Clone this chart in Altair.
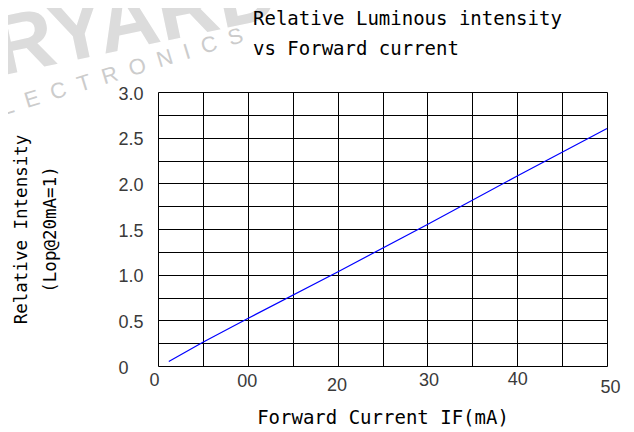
import altair as alt
import pandas as pd

# ---- data ----
current_ma = [1.2, 5, 10, 20, 30, 40, 50]
rel_intensity = [0.05, 0.26, 0.52, 1.03, 1.55, 2.08, 2.60]

x_grid_values = [0, 5, 10, 15, 20, 25, 30, 35, 40, 45, 50]
x_tick_values = [0, 10, 20, 30, 40, 50]
x_tick_labels = ["0", "00", "20", "30", "40", "50"]

y_grid_values = [0, 0.25, 0.5, 0.75, 1.0, 1.25, 1.5, 1.75, 2.0, 2.25, 2.5, 2.75, 3.0]
y_tick_values = [0, 0.5, 1.0, 1.5, 2.0, 2.5, 3.0]
y_tick_labels = ["0", "0.5", "1.0", "1.5", "2.0", "2.5", "3.0"]

title_lines = ["Relative Luminous intensity", "vs Forward current"]
x_title = "Forward Current IF(mA)"
y_title_lines = ["Relative Intensity", "(Lop@20mA=1)"]
watermark_text = ["RYARD", "ELECTRONICS"]

df = pd.DataFrame({"current": current_ma, "intensity": rel_intensity})


def label_expr(values, labels):
    expr = "''"
    for v, l in reversed(list(zip(values, labels))):
        expr = f"datum.value == {v} ? '{l}' : ({expr})"
    return expr


# per-label placement tweaks (style only)
x_pad = {0: 5, 10: 6, 20: 10, 30: 5, 40: 4, 50: 12}
x_off = {0: -4, 10: -1, 20: -1, 30: 1, 40: 0, 50: 3}

x_axis = alt.Axis(
    values=x_grid_values,
    labelExpr=label_expr(x_tick_values, x_tick_labels),
    grid=True, gridColor="black", gridOpacity=1, gridWidth=1,
    ticks=False, domain=False,
    labelFont="Liberation Sans", labelFontSize=18, labelColor="#3a3a3a",
    labelBaseline="top", labelFlush=False, labelOverlap=False,
    labelPadding={"condition": [{"test": f"datum.value == {k}", "value": v} for k, v in x_pad.items()], "value": 6},
    labelOffset={"condition": [{"test": f"datum.value == {k}", "value": v} for k, v in x_off.items()], "value": 0},
    title=x_title, titleFont="DejaVu Sans Mono", titleFontSize=19, titleFontWeight="normal",
    titleColor="black", titlePadding=12,
)

y_axis = alt.Axis(
    values=y_grid_values,
    labelExpr=label_expr(y_tick_values, y_tick_labels),
    grid=True, gridColor="black", gridOpacity=1, gridWidth=1,
    ticks=False, domain=False,
    labelFont="Liberation Sans", labelFontSize=18, labelColor="#3a3a3a",
    labelBaseline="middle", labelFlush=False, labelOverlap=False, labelOffset=2,
    labelPadding={"condition": [{"test": "datum.value == 0", "value": 30}], "value": 15},
    title=y_title_lines, titleFont="DejaVu Sans Mono", titleFontSize=17.5, titleFontWeight="normal",
    titleColor="black", titleLineHeight=29, titlePadding=58,
)

line = alt.Chart(df).mark_line(color="#0000ff", strokeWidth=1.2).encode(
    x=alt.X("current:Q", scale=alt.Scale(domain=[0, 50], nice=False, zero=False), axis=x_axis),
    y=alt.Y("intensity:Q", scale=alt.Scale(domain=[0, 3], nice=False), axis=y_axis),
)

wm1 = alt.Chart(pd.DataFrame({"t": [watermark_text[0]]})).mark_text(
    font="Liberation Sans", fontSize=84, fontWeight="bold", color="#dcdcdc",
    align="left", baseline="alphabetic", angle=348,
).encode(text="t:N", x=alt.value(-158), y=alt.value(-16))

# letter-spaced watermark (non-breaking spaces are not collapsed in SVG)
spaced = "\u00a0\u00a0".join(list(watermark_text[1]))
wm2 = alt.Chart(pd.DataFrame({"t": [spaced]})).mark_text(
    font="Liberation Sans", fontSize=22, color="#cccccc",
    align="left", baseline="alphabetic", angle=343,
).encode(text="t:N", x=alt.value(-180), y=alt.value(31))

title = alt.Chart(pd.DataFrame({"t": ["\n".join(title_lines)]})).mark_text(
    font="DejaVu Sans Mono", fontSize=19, color="black", align="left",
    baseline="alphabetic", lineBreak="\n", lineHeight=30,
).encode(text="t:N", x=alt.value(95), y=alt.value(-67))

chart = alt.layer(wm1, wm2, title, line).properties(
    width=449, height=274,
    autosize=alt.AutoSizeParams(type="none"),
    padding={"left": 150, "top": 84, "right": 18, "bottom": 64},
).configure_view(stroke="black", strokeWidth=1).configure(background="white")

chart.save("out.html", embed_options={"renderer": "svg", "actions": False})
